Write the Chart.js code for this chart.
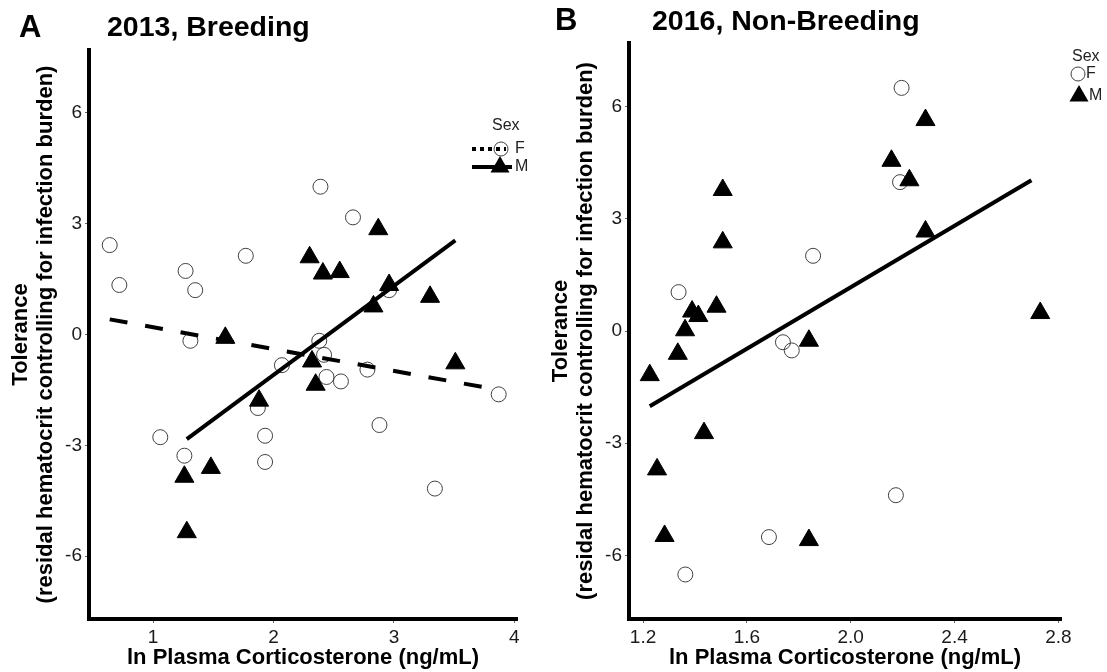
<!DOCTYPE html>
<html>
<head>
<meta charset="utf-8">
<script src="https://cdn.jsdelivr.net/npm/chart.js@4.4.1/dist/chart.umd.min.js"></script>
<style>
  body { margin: 0; background: #fff; }
  #wrap { position: relative; width: 1107px; height: 672px; }
  #boxA { position: absolute; left: 0; top: 0; width: 540px; height: 672px; }
  #boxB { position: absolute; left: 540px; top: 0; width: 567px; height: 672px; }
</style>
</head>
<body>
<div id="wrap">
  <div id="boxA"><canvas id="chartA" width="540" height="672"></canvas></div>
  <div id="boxB"><canvas id="chartB" width="567" height="672"></canvas></div>
</div>
<script>
// 2013, breeding
const femX13 = [0.64, 0.72, 1.27, 1.35, 1.31, 1.77, 1.06, 1.26, 1.87, 1.93, 1.93, 2.07, 2.39, 2.66, 2.38, 2.42, 2.44, 2.56, 2.78, 2.88, 2.96, 3.34, 3.87];
const femY13 = [2.42, 1.34, 1.72, 1.20, -0.17, 2.13, -2.78, -3.28, -1.99, -2.74, -3.45, -0.83, 4.00, 3.17, -0.17, -0.55, -1.15, -1.27, -0.95, -2.45, 1.20, -4.17, -1.62];
const malX13 = [1.26, 1.48, 1.28, 1.60, 1.88, 2.30, 2.41, 2.55, 2.32, 2.35, 2.87, 2.96, 2.83, 3.30, 3.51];
const malY13 = [-3.85, -3.61, -5.35, -0.09, -1.79, 2.09, 1.65, 1.69, -0.73, -1.36, 2.85, 1.34, 0.76, 1.02, -0.78];
const fitFemX13 = [0.64, 3.87];
const fitFemY13 = [0.41, -1.50];
const fitMalX13 = [1.28, 3.51];
const fitMalY13 = [-2.83, 2.55];

// 2016, non-breeding
const femX16 = [2.196, 2.19, 1.855, 1.337, 1.739, 1.773, 2.174, 1.685, 1.363];
const femY16 = [6.50, 3.98, 2.01, 1.04, -0.30, -0.52, -4.39, -5.51, -6.51];
const malX16 = [1.226, 1.254, 1.283, 1.334, 1.362, 1.389, 1.413, 1.483, 1.507, 1.507, 1.435, 1.839, 1.839, 2.157, 2.226, 2.288, 2.288, 2.730];
const malY16 = [-1.18, -3.70, -5.48, -0.61, 0.02, 0.52, 0.40, 0.65, 3.77, 2.37, -2.73, -0.26, -5.59, 4.55, 4.03, 5.64, 2.66, 0.48];
const fitX16 = [1.226, 2.696];
const fitY16 = [-2.01, 4.03];

const xTicks13 = [1, 2, 3, 4];
const xTicks16 = [1.2, 1.6, 2.0, 2.4, 2.8];
const yTicks = [-6, -3, 0, 3, 6];

const FONT = '"Liberation Sans", Arial, Helvetica, sans-serif';

function pts(xs, ys) {
  return xs.map((x, i) => ({ x: x, y: ys[i] }));
}

function fitSet(xs, ys, dash) {
  return {
    data: pts(xs, ys), showLine: true, borderColor: '#000', borderWidth: 4,
    borderDash: dash, pointRadius: 0, pointHoverRadius: 0, fill: false
  };
}

function femSet(xs, ys) {
  return {
    data: pts(xs, ys), pointStyle: 'circle', pointRadius: 7.5, pointHoverRadius: 7.5,
    pointBackgroundColor: 'rgba(0,0,0,0)', pointBorderColor: '#404040', pointBorderWidth: 1
  };
}

function malSet(xs, ys) {
  return {
    data: pts(xs, ys), pointStyle: 'triangle', pointRadius: 11, pointHoverRadius: 11,
    pointBackgroundColor: '#000', pointBorderColor: '#000', pointBorderWidth: 1
  };
}

// panel letter, title and the Sex legend
const panelDecor = {
  id: 'panelDecor',
  afterDraw(chart, args, o) {
    const ctx = chart.ctx;
    ctx.save();
    ctx.textBaseline = 'middle';
    ctx.textAlign = 'left';
    ctx.fillStyle = '#000';
    ctx.font = 'bold 31px ' + FONT;
    ctx.fillText(o.letter, o.letterX, o.letterY);
    ctx.font = 'bold 28.5px ' + FONT;
    ctx.fillText(o.title, o.titleX, o.titleY);

    const lg = o.legend;
    ctx.fillStyle = '#222';
    ctx.font = '16px ' + FONT;
    ctx.fillText('Sex', lg.x, lg.y);
    lg.items.forEach(it => {
      if (it.line) {
        ctx.beginPath();
        ctx.strokeStyle = '#000';
        ctx.lineWidth = 4;
        ctx.setLineDash(it.dash || []);
        ctx.moveTo(it.line[0], it.y);
        ctx.lineTo(it.line[1], it.y);
        ctx.stroke();
        ctx.setLineDash([]);
      }
      ctx.beginPath();
      if (it.shape === 'circle') {
        ctx.arc(it.mx, it.y, 7, 0, Math.PI * 2);
        ctx.strokeStyle = '#404040';
        ctx.lineWidth = 1;
        ctx.stroke();
      } else {
        const r = 11;
        ctx.moveTo(it.mx, it.y - r);
        ctx.lineTo(it.mx + r * Math.sin(2 * Math.PI / 3), it.y + r / 2);
        ctx.lineTo(it.mx - r * Math.sin(2 * Math.PI / 3), it.y + r / 2);
        ctx.closePath();
        ctx.fillStyle = '#000';
        ctx.fill();
      }
      ctx.fillStyle = '#222';
      ctx.fillText(it.label, it.tx, it.y);
    });
    ctx.restore();
  }
};

function makeChart(id, cfg) {
  return new Chart(document.getElementById(id), {
    type: 'scatter',
    data: { datasets: cfg.datasets },
    options: {
      responsive: false,
      animation: false,
      devicePixelRatio: 1,
      layout: { padding: cfg.padding },
      plugins: {
        legend: { display: false },
        tooltip: { enabled: false },
        panelDecor: cfg.decor
      },
      scales: {
        x: {
          type: 'linear', min: cfg.xMin, max: cfg.xMax,
          afterFit(s) { s.height = 53; },
          afterBuildTicks(s) { s.ticks = cfg.xTicks.map(v => ({ value: v })); },
          border: { display: true, color: '#000', width: 4 },
          grid: { drawOnChartArea: false, drawTicks: true, tickLength: 4, color: '#666', lineWidth: 1 },
          ticks: {
            color: '#1a1a1a', padding: 3, maxRotation: 0, autoSkip: false,
            font: { size: 19, family: FONT },
            callback: cfg.xFmt
          },
          title: {
            display: true, text: 'ln Plasma Corticosterone (ng/mL)', color: '#000',
            font: { size: 22, weight: 'bold', family: FONT }, padding: { top: 0, bottom: 1 }
          }
        },
        y: {
          type: 'linear', min: -7.7, max: 7.7,
          afterFit(s) { s.width = 89; },
          afterBuildTicks(s) { s.ticks = yTicks.map(v => ({ value: v })); },
          border: { display: true, color: '#000', width: 4 },
          grid: { drawOnChartArea: false, drawTicks: true, tickLength: 4, color: '#666', lineWidth: 1 },
          ticks: {
            color: '#1a1a1a', padding: 3, autoSkip: false,
            font: { size: 19, family: FONT }
          },
          title: {
            display: true,
            text: ['Tolerance', '(residal hematocrit controlling for infection burden)'],
            color: '#000',
            font: { size: 22, weight: 'bold', family: FONT, lineHeight: 1.14 },
            padding: { top: 8.5, bottom: 0 }
          }
        }
      }
    },
    plugins: [panelDecor]
  });
}

makeChart('chartA', {
  datasets: [
    fitSet(fitFemX13, fitFemY13, [18, 18]),
    fitSet(fitMalX13, fitMalY13, []),
    malSet(malX13, malY13),
    femSet(femX13, femY13)
  ],
  padding: { top: 50, right: 23, bottom: 0, left: 0 },
  xMin: 0.468, xMax: 4.022, xTicks: xTicks13,
  xFmt: v => String(v),
  decor: {
    letter: 'A', letterX: 19, letterY: 28,
    title: '2013, Breeding', titleX: 107, titleY: 28,
    legend: {
      x: 492, y: 126,
      items: [
        { label: 'F', shape: 'circle', mx: 501, tx: 515, y: 149, line: [472, 506], dash: [4, 4] },
        { label: 'M', shape: 'triangle', mx: 500, tx: 515, y: 167, line: [472, 512] }
      ]
    }
  }
});

makeChart('chartB', {
  datasets: [
    fitSet(fitX16, fitY16, []),
    malSet(malX16, malY16),
    femSet(femX16, femY16)
  ],
  padding: { top: 43, right: 46, bottom: 0, left: 0 },
  xMin: 1.146, xMax: 2.81, xTicks: xTicks16,
  xFmt: v => v.toFixed(1),
  decor: {
    letter: 'B', letterX: 15, letterY: 21,
    title: '2016, Non-Breeding', titleX: 112, titleY: 22,
    legend: {
      x: 532, y: 57,
      items: [
        { label: 'F', shape: 'circle', mx: 538, tx: 546, y: 74 },
        { label: 'M', shape: 'triangle', mx: 539, tx: 549, y: 96 }
      ]
    }
  }
});
</script>
</body>
</html>
